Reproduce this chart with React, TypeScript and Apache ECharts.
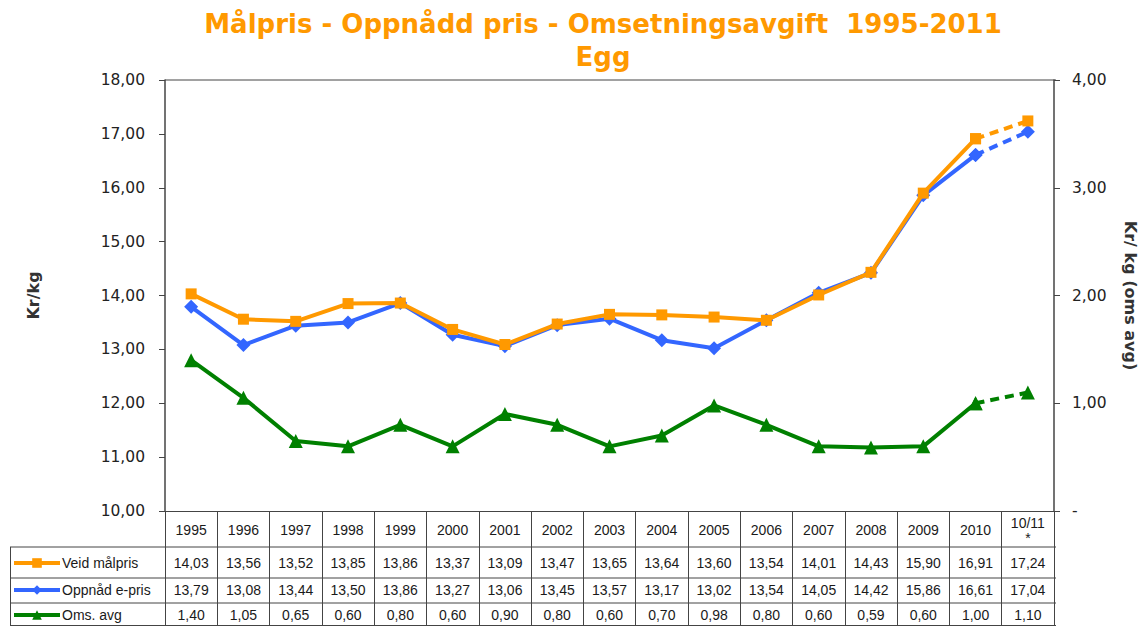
import React, { useEffect, useRef } from "react";
import * as echarts from "echarts";

const categories = ["1995","1996","1997","1998","1999","2000","2001","2002","2003","2004","2005","2006","2007","2008","2009","2010","10/11\n*"];
const veidMalpris = [14.03,13.56,13.52,13.85,13.86,13.37,13.09,13.47,13.65,13.64,13.60,13.54,14.01,14.43,15.90,16.91,17.24];
const oppnadPris = [13.79,13.08,13.44,13.50,13.86,13.27,13.06,13.45,13.57,13.17,13.02,13.54,14.05,14.42,15.86,16.61,17.04];
const omsAvg = [1.40,1.05,0.65,0.60,0.80,0.60,0.90,0.80,0.60,0.70,0.98,0.80,0.60,0.59,0.60,1.00,1.10];

const seriesNames = ["Veid målpris", "Oppnåd e-pris", "Oms. avg"];
const colors = ["#FF9900", "#3366FF", "#008000"];
const symbols = ["rect", "diamond", "triangle"];
const symbolSizes = [11, 14, 14];

const fmt = (v: number) => v.toFixed(2).replace(".", ",");

export default function App() {
  const ref = useRef<HTMLDivElement>(null);
  useEffect(() => {
    if (!ref.current) return;
    const chart = echarts.init(ref.current, null, { renderer: "svg" });
    const allData = [veidMalpris, oppnadPris, omsAvg];
    const n = categories.length;
    const series: any[] = [];
    allData.forEach((arr, k) => {
      const solid = arr.map((v, i) => (i < n - 1 ? v : null));
      const dashed = arr.map((v, i) => (i >= n - 2 ? v : null));
      series.push({
        name: seriesNames[k],
        type: "line",
        xAxisIndex: 0,
        yAxisIndex: k === 2 ? 1 : 0,
        data: solid,
        symbol: symbols[k],
        symbolSize: symbolSizes[k],
        itemStyle: { color: colors[k] },
        lineStyle: { color: colors[k], width: 4 },
        z: 3 - k + 2,
      });
      series.push({
        name: seriesNames[k] + " *",
        type: "line",
        xAxisIndex: 0,
        yAxisIndex: k === 2 ? 1 : 0,
        data: dashed,
        symbol: symbols[k],
        symbolSize: symbolSizes[k],
        itemStyle: { color: colors[k] },
        lineStyle: { color: colors[k], width: 4, type: [9, 6] },
        z: 3 - k + 2,
      });
    });

    const tableFont = { fontFamily: "Liberation Sans", fontSize: 14, color: "#1a1a1a" };
    const rowAxis = (arr: number[], margin: number) => ({
      type: "category",
      data: categories,
      gridIndex: 0,
      position: "bottom",
      boundaryGap: true,
      axisLine: { show: false },
      axisTick: { show: false },
      splitLine: { show: false },
      axisLabel: {
        interval: 0,
        margin,
        verticalAlign: "middle",
        ...tableFont,
        formatter: (_v: string, i: number) => fmt(arr[i]),
      },
    });

    const rowCenters = [563, 590, 615];
    const legends = seriesNames.map((name, k) => ({
      orient: "horizontal",
      left: 12,
      top: rowCenters[k] - 7,
      padding: 0,
      itemWidth: 46,
      itemHeight: 12,
      data: [name],
      lineStyle: { width: 4 },
      textStyle: { ...tableFont, padding: [0, 0, 0, -3] },
      selectedMode: false,
    }));

    const lineColor = "#444";
    const hLine = (x1: number, y: number, x2: number) => ({
      type: "line",
      shape: { x1, y1: y, x2, y2: y },
      style: { stroke: lineColor, lineWidth: 1 },
      silent: true,
    });

    chart.setOption({
      animation: false,
      backgroundColor: "#ffffff",
      title: {
        text: "Målpris - Oppnådd pris - Omsetningsavgift  1995-2011\nEgg",
        left: 598,
        top: 2,
        textAlign: "center",
        textStyle: {
          fontFamily: "DejaVu Sans",
          fontWeight: "bold",
          fontSize: 26,
          lineHeight: 33,
          color: "#FF9900",
        },
      },
      legend: legends,
      grid: { left: 165, right: 90, top: 80, bottom: 115 },
      xAxis: [
        {
          type: "category",
          data: categories,
          position: "bottom",
          boundaryGap: true,
          axisLine: { show: true, lineStyle: { color: lineColor, width: 1 } },
          axisTick: { show: true, length: 115, lineStyle: { color: lineColor, width: 1 } },
          splitLine: { show: false },
          axisLabel: {
            interval: 0,
            margin: 19,
            verticalAlign: "middle",
            lineHeight: 15,
            ...tableFont,
          },
        },
        rowAxis(veidMalpris, 52),
        rowAxis(oppnadPris, 79),
        rowAxis(omsAvg, 104),
      ],
      yAxis: [
        {
          type: "value",
          min: 10,
          max: 18,
          interval: 1,
          position: "left",
          name: "Kr/kg",
          nameLocation: "middle",
          nameRotate: 90,
          nameGap: 124,
          nameTextStyle: { fontFamily: "DejaVu Sans", fontWeight: "bold", fontSize: 16, color: "#333" },
          axisLine: { show: true, lineStyle: { color: lineColor, width: 1.5 } },
          axisTick: { show: true, length: 6, lineStyle: { color: lineColor } },
          splitLine: { show: false },
          axisLabel: {
            fontFamily: "DejaVu Sans",
            fontSize: 15.5,
            color: "#222",
            margin: 20,
            formatter: (v: number) => fmt(v),
          },
        },
        {
          type: "value",
          min: 0,
          max: 4,
          interval: 1,
          position: "right",
          name: "Kr/ kg (oms avg)",
          nameLocation: "middle",
          nameRotate: -90,
          nameGap: 68,
          nameTextStyle: { fontFamily: "DejaVu Sans", fontWeight: "bold", fontSize: 16, color: "#333" },
          axisLine: { show: true, lineStyle: { color: lineColor, width: 1.5 } },
          axisTick: { show: true, length: 6, lineStyle: { color: lineColor } },
          splitLine: { show: false },
          axisLabel: {
            fontFamily: "DejaVu Sans",
            fontSize: 15.5,
            color: "#222",
            margin: 18,
            formatter: (v: number) => (v === 0 ? "-" : fmt(v)),
          },
        },
      ],
      graphic: [
        hLine(165, 80, 1056),
        hLine(10, 547, 1056),
        hLine(10, 578, 1056),
        hLine(10, 603, 1056),
        hLine(10, 625.5, 1056),
        {
          type: "line",
          shape: { x1: 10.5, y1: 547, x2: 10.5, y2: 626 },
          style: { stroke: lineColor, lineWidth: 1 },
          silent: true,
        },
      ],
      series,
    });
    return () => chart.dispose();
  }, []);
  return (
    <div
      ref={ref}
      style={{ position: "fixed", left: 0, top: 0, width: 1146, height: 626, background: "#fff" }}
    />
  );
}
